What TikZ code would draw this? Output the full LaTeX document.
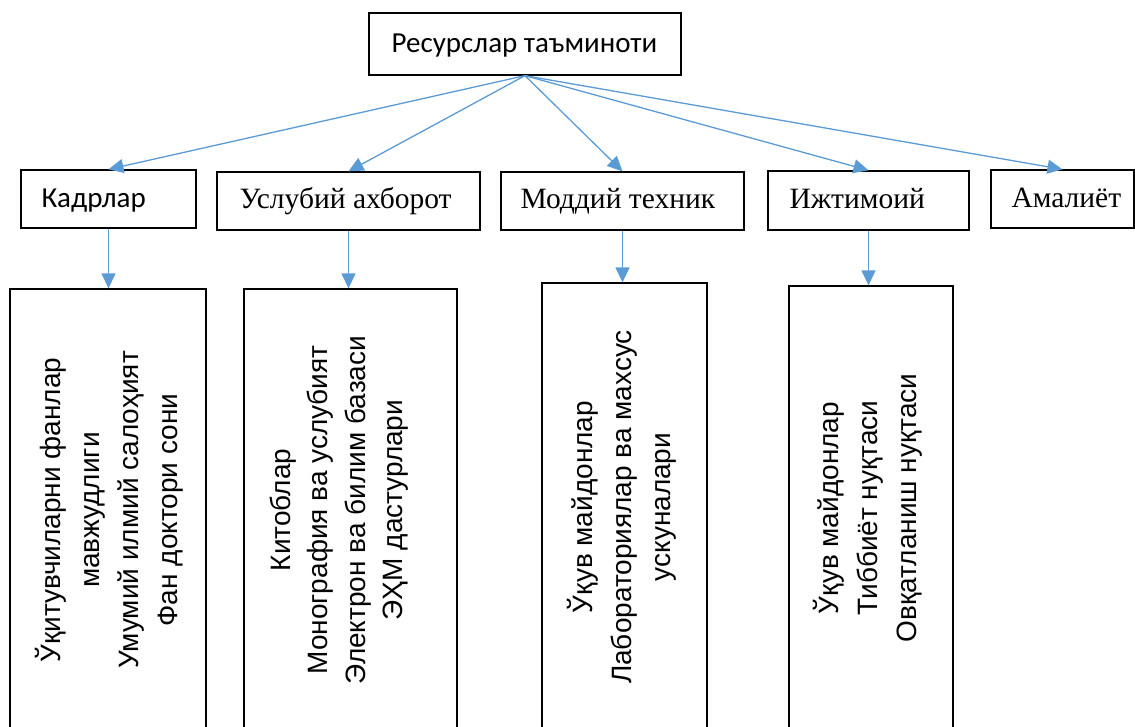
\documentclass[tikz,border=0pt]{standalone}
\usepackage{fontspec}
\setmainfont{Liberation Serif}
\newfontfamily\headfont{Carlito}
\newfontfamily\listfont{Liberation Sans}
\usetikzlibrary{arrows.meta}
\definecolor{arrowblue}{RGB}{91,155,213}

\begin{document}
\begin{tikzpicture}[x=1pt, y=-1pt,
        box/.style={draw, line width=1.3pt, inner sep=0pt, minimum height=58pt},
        title/.style={anchor=base west, inner sep=0pt, font=\fontsize{29.5}{34}\selectfont},
        listbox/.style={draw, line width=1.3pt, inner sep=0pt},
        listtext/.style={rotate=90, align=center, font=\listfont\fontsize{28}{39}\selectfont},
        link/.style={draw=arrowblue, line width=1.3pt, -{Triangle[length=15pt,width=14pt]}}]
        \useasboundingbox (0,0) rectangle (1135,726);
        \clip (0,0) rectangle (1135,726);
        \node[box, minimum width=312pt, minimum height=62pt] (res) at (525,44) {};
        \node[box, minimum width=175pt] (kadr) at (108.5,199) {};
        \node[box, minimum width=263pt] (uslub) at (348.5,201) {};
        \node[box, minimum width=243pt] (moddiy) at (622.5,201) {};
        \node[box, minimum width=201pt, minimum height=59pt] (ijtim) at (868.5,200.5) {};
        \node[box, minimum width=143pt] (amal) at (1062.5,199) {};
        \node[title, font=\headfont\fontsize{29}{34}\selectfont] (resText) at ([xshift=23pt, yshift=-8pt]res.west) {Ресурслар таъминоти};
        \node[title, font=\headfont\fontsize{29}{34}\selectfont] (kadrText) at ([xshift=21pt, yshift=-8pt]kadr.west) {Кадрлар};
        \node[title] (uslubText) at ([xshift=23pt, yshift=-7pt]uslub.west) {Услубий ахборот};
        \node[title] (moddiyText) at ([xshift=20pt, yshift=-7.5pt]moddiy.west) {Моддий техник};
        \node[title] (ijtimText) at ([xshift=22pt, yshift=-7.5pt]ijtim.west) {Ижтимоий};
        \node[title] (amalText) at ([xshift=21pt, yshift=-8pt]amal.west) {Амалиёт};
        \node[listbox, minimum width=196pt, minimum height=441pt] (kadrList) at (108,509.5) {};
        \node[listbox, minimum width=213pt, minimum height=441pt] (uslubList) at (350.5,509.5) {};
        \node[listbox, minimum width=165pt, minimum height=447pt] (moddiyList) at (624.5,506.5) {};
        \node[listbox, minimum width=164pt, minimum height=444pt] (ijtimList) at (871,508) {};
        \node[listtext] (kadrItems) at (109,510) {Ўқитувчиларни фанлар\\мавжудлиги\\Умумий илмий салоҳият\\Фан доктори сони};
        \node[listtext, font=\listfont\fontsize{28}{37.5}\selectfont] (uslubItems) at (339,510) {Китоблар\\Монография ва услубият\\Электрон ва билим базаси\\ЭҲМ дастурлари};
        \node[listtext] (moddiyItems) at (622,507) {Ўқув майдонлар\\Лабораториялар ва махсус\\ускуналари};
        \node[listtext] (ijtimItems) at (868,508) {Ўқув майдонлар\\Тиббиёт нуқтаси\\Овқатланиш нуқтаси};
        \foreach \n in {kadr, uslub, moddiy, ijtim, amal}
            \draw[link] (res.south) -- (\n.north);
        \foreach \a/\b in {kadr/kadrList, uslub/uslubList, moddiy/moddiyList, ijtim/ijtimList}
            \draw[link] (\a.south) -- (\a.south |- \b.north);
    \end{tikzpicture}
\end{document}
